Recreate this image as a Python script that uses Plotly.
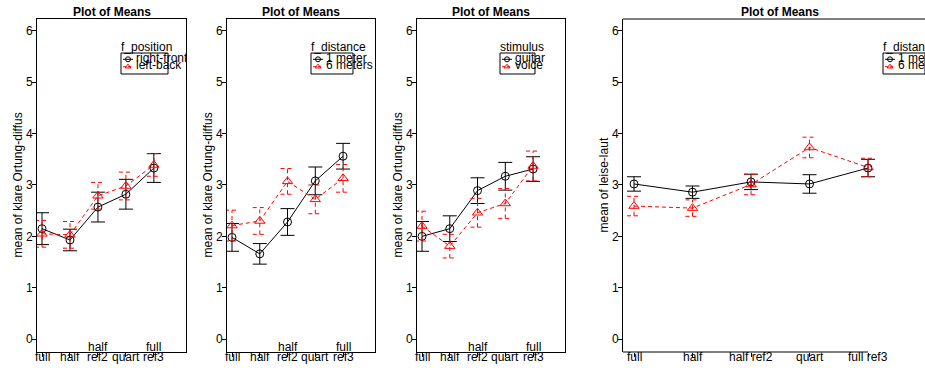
import plotly.graph_objects as go

FONT = "Liberation Sans, Arial, Helvetica, sans-serif"
W, H = 925, 368

# factor levels on the horizontal axis
levels = ["full", "half", "half ref2", "quart", "full ref3"]
xs = [1, 2, 3, 4, 5]
y_ticks = [0, 1, 2, 3, 4, 5, 6]

# klare Ortung-diffus by f_position
pos_right_front_mean = [2.15, 1.93, 2.57, 2.82, 3.33]
pos_right_front_se = [0.31, 0.21, 0.29, 0.29, 0.28]
pos_left_back_mean = [2.05, 2.03, 2.79, 2.98, 3.39]
pos_left_back_se = [0.26, 0.26, 0.26, 0.27, 0.22]

# klare Ortung-diffus by f_distance
dist_1m_mean = [1.98, 1.66, 2.28, 3.08, 3.56]
dist_1m_se = [0.27, 0.20, 0.26, 0.27, 0.25]
dist_6m_mean = [2.21, 2.30, 3.07, 2.72, 3.13]
dist_6m_se = [0.30, 0.26, 0.25, 0.28, 0.27]

# klare Ortung-diffus by stimulus
stim_guitar_mean = [2.00, 2.15, 2.89, 3.17, 3.31]
stim_guitar_se = [0.29, 0.25, 0.25, 0.27, 0.24]
stim_voice_mean = [2.20, 1.81, 2.46, 2.64, 3.37]
stim_voice_se = [0.29, 0.23, 0.28, 0.29, 0.29]

# leise-laut by f_distance
loud_1m_mean = [3.02, 2.86, 3.06, 3.02, 3.33]
loud_1m_se = [0.14, 0.12, 0.15, 0.18, 0.17]
loud_6m_mean = [2.59, 2.55, 3.01, 3.73, 3.34]
loud_6m_se = [0.19, 0.16, 0.20, 0.20, 0.18]

# plot-box geometry in pixels
TOP, BOTTOM = 19, 352
YR = (-0.25, 6.23)

panels = [
    dict(left=37, right=186, center=111.5, xr=(0.82, 6.15), wrap=True, box=True,
         ylab="mean of klare Ortung-diffus", factor="f_position",
         groups=[("right-front", pos_right_front_mean, pos_right_front_se),
                 ("left-back", pos_left_back_mean, pos_left_back_se)],
         leg_left=121, leg_w=47),
    dict(left=227, right=375, center=301, xr=(0.82, 6.15), wrap=True, box=True,
         ylab="mean of klare Ortung-diffus", factor="f_distance",
         groups=[("1 meter", dist_1m_mean, dist_1m_se),
                 ("6 meters", dist_6m_mean, dist_6m_se)],
         leg_left=311, leg_w=42),
    dict(left=417, right=565, center=491, xr=(0.82, 6.15), wrap=True, box=True,
         ylab="mean of klare Ortung-diffus", factor="stimulus",
         groups=[("guitar", stim_guitar_mean, stim_guitar_se),
                 ("voice", stim_voice_mean, stim_voice_se)],
         leg_left=500, leg_w=35),
    dict(left=623, right=925, center=780, xr=(0.812, 0.812 + 302 / 58.5), wrap=False, box=False,
         ylab="mean of leise-laut", factor="f_distance",
         groups=[("1 meter", loud_1m_mean, loud_1m_se),
                 ("6 meters", loud_6m_mean, loud_6m_se)],
         leg_left=883, leg_w=42),
]

styles = [
    dict(color="black", dash="solid", symbol="circle-open", size=8),
    dict(color="red", dash="4px,3px", symbol="triangle-up-open", size=9),
]

CAP_PX = 7


def px_x(p, px):
    r0, r1 = p["xr"]
    return r0 + (px - p["left"]) / (p["right"] - p["left"]) * (r1 - r0)


def px_y(py):
    return YR[0] + (BOTTOM - py) / (BOTTOM - TOP) * (YR[1] - YR[0])


def paper_y(py):
    return (H - py) / H


fig = go.Figure()
annotations = []
shapes = []

for i, p in enumerate(panels, start=1):
    xa, ya = f"x{i}", f"y{i}"
    cap = px_x(p, p["left"] + CAP_PX) - px_x(p, p["left"])

    for (name, means, ses), st in zip(p["groups"], styles):
        ex, ey = [], []
        for x, m, s in zip(xs, means, ses):
            lo, hi = m - s, m + s
            ex += [x, x, None, x - cap, x + cap, None, x - cap, x + cap, None]
            ey += [lo, hi, None, hi, hi, None, lo, lo, None]
        fig.add_trace(go.Scatter(x=ex, y=ey, mode="lines", xaxis=xa, yaxis=ya,
                                 line=dict(color=st["color"], width=1, dash=st["dash"]),
                                 hoverinfo="skip", showlegend=False))
        fig.add_trace(go.Scatter(x=xs, y=means, mode="lines+markers", xaxis=xa, yaxis=ya,
                                 name=name, showlegend=False,
                                 line=dict(color=st["color"], width=1, dash=st["dash"]),
                                 marker=dict(symbol=st["symbol"], size=st["size"],
                                             color=st["color"], line=dict(width=1, color=st["color"]))))

    # legend block drawn inside the plot region
    L = p["leg_left"]
    fig.add_trace(go.Scatter(x=[px_x(p, L)], y=[px_y(47.7)], mode="text", text=[p["factor"]],
                             textposition="middle right", xaxis=xa, yaxis=ya,
                             textfont=dict(family=FONT, size=12, color="black"),
                             hoverinfo="skip", showlegend=False))
    for k, ((name, _, _), st) in enumerate(zip(p["groups"], styles)):
        yk = 59.3 + 7.4 * k
        fig.add_trace(go.Scatter(x=[px_x(p, L + 2), px_x(p, L + 12)], y=[px_y(yk)] * 2,
                                 mode="lines", xaxis=xa, yaxis=ya,
                                 line=dict(color=st["color"], width=1, dash="solid" if k == 0 else "3px,2px"),
                                 hoverinfo="skip", showlegend=False))
        fig.add_trace(go.Scatter(x=[px_x(p, L + 7)], y=[px_y(yk)], mode="markers",
                                 xaxis=xa, yaxis=ya,
                                 marker=dict(symbol=st["symbol"], size=5, color=st["color"],
                                             line=dict(width=1, color=st["color"])),
                                 hoverinfo="skip", showlegend=False))
        fig.add_trace(go.Scatter(x=[px_x(p, L + 15)], y=[px_y(yk - 0.5)], mode="text", text=[name],
                                 textposition="middle right", xaxis=xa, yaxis=ya,
                                 textfont=dict(family=FONT, size=12, color="black"),
                                 hoverinfo="skip", showlegend=False))
    shapes.append(dict(type="rect", xref=xa, yref=ya,
                       x0=px_x(p, L), x1=px_x(p, L + p["leg_w"]),
                       y0=px_y(74), y1=px_y(53), line=dict(color="black", width=1)))

    # axes
    fig.update_layout(**{
        f"xaxis{i}": dict(domain=[p["left"] / W, min(p["right"] / W, 1.0)], range=list(p["xr"]),
                          anchor=ya, tickvals=xs, showticklabels=False, ticks="outside",
                          ticklen=4, tickcolor="black", showgrid=False, zeroline=False,
                          showline=p["box"], mirror=p["box"], linecolor="black", linewidth=1),
        f"yaxis{i}": dict(domain=[paper_y(BOTTOM), paper_y(TOP)], range=list(YR), anchor=xa,
                          tickvals=y_ticks, ticks="outside", ticklen=4, tickcolor="black",
                          ticklabelstandoff=-3,
                          tickfont=dict(family=FONT, size=12, color="black"),
                          showgrid=False, zeroline=False, showline=True, mirror=p["box"],
                          linecolor="black", linewidth=1),
    })
    if not p["box"]:
        shapes.append(dict(type="line", xref=f"{xa} domain", yref=f"{ya} domain",
                           x0=0, x1=1, y0=1, y1=1, line=dict(color="black", width=1)))
        shapes.append(dict(type="line", xref=xa, yref=f"{ya} domain",
                           x0=p["xr"][0], x1=xs[-1], y0=0, y1=0, line=dict(color="black", width=1)))

    # category labels under the axis
    for x, lab in zip(xs, levels):
        lines = lab.split(" ") if p["wrap"] else [lab]
        for k, line in enumerate(reversed(lines)):
            annotations.append(dict(text=line, xref=xa, x=x, yref="paper", y=paper_y(357 - 10 * k),
                                    xanchor="center", yanchor="middle", showarrow=False,
                                    font=dict(family=FONT, size=12, color="black")))

    annotations.append(dict(text="<b>Plot of Means</b>", xref="paper", x=p["center"] / W,
                            yref="paper", y=paper_y(12.3), xanchor="center", yanchor="middle",
                            showarrow=False, font=dict(family=FONT, size=12, color="black")))
    annotations.append(dict(text=p["ylab"], xref="paper", x=(p["left"] - 20) / W,
                            yref="paper", y=paper_y((TOP + BOTTOM) / 2), textangle=-90,
                            xanchor="center", yanchor="middle", showarrow=False,
                            font=dict(family=FONT, size=12, color="black")))

fig.update_layout(width=W, height=H, margin=dict(l=0, r=0, t=0, b=0),
                  paper_bgcolor="white", plot_bgcolor="white", showlegend=False,
                  annotations=annotations, shapes=shapes,
                  font=dict(family=FONT, size=12, color="black"))

fig.write_html("out.html")
